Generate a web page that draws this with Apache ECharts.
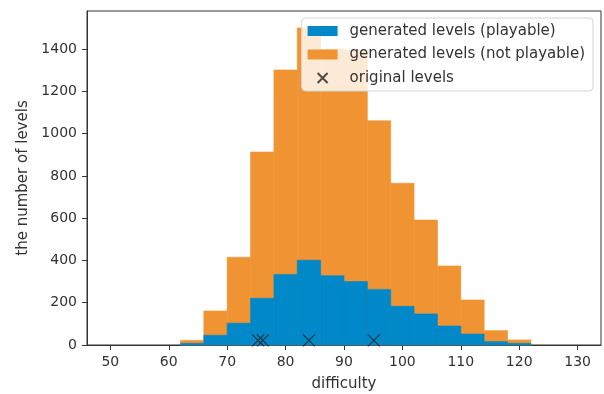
<!DOCTYPE html>
<html>
<head>
<meta charset="utf-8">
<script src="https://cdn.jsdelivr.net/npm/echarts@6/dist/echarts.min.js"></script>
<style>
  html, body { margin: 0; padding: 0; background: #fff; }
  #chart { width: 604px; height: 394px; }
</style>
</head>
<body>
<div id="chart"></div>
<script>
// histogram bins (left edges), each 4 wide
const binStart = [50, 54, 58, 62, 66, 70, 74, 78, 82, 86, 90, 94, 98, 102, 106, 110, 114, 118, 122, 126];
const binWidth = 4;
// total generated levels per bin (top of the orange bars)
const totalLevels = [0, 0, 0, 22, 161, 415, 913, 1301, 1500, 1400, 1395, 1061, 765, 591, 374, 213, 68, 24, 0, 0];
// playable levels per bin (blue bars)
const playableLevels = [0, 0, 0, 8, 46, 103, 221, 334, 401, 328, 300, 263, 183, 147, 90, 52, 16, 8, 0, 0];
// original levels difficulty (x markers)
const originalDifficulty = [75.3, 76.1, 84.0, 95.1];
const originalCount = [22, 22, 22, 22];

const xTicks = [50, 60, 70, 80, 90, 100, 110, 120, 130];
const yTicks = [0, 200, 400, 600, 800, 1000, 1200, 1400];

const BLUE = '#0088c9';
const ORANGE = '#f09433';
const FONT = 'DejaVu Sans';

function histRect(color) {
  return function (params, api) {
    if (!api.value(2)) return null; // empty bin
    const a = api.coord([api.value(0), 0]);
    const b = api.coord([api.value(1), api.value(2)]);
    return {
      type: 'rect',
      shape: { x: a[0], y: b[1], width: b[0] - a[0], height: a[1] - b[1] },
      style: { fill: color, stroke: color, lineWidth: 0.6 }
    };
  };
}

const totalData = binStart.map((x, i) => [x, x + binWidth, totalLevels[i]]);
const playData = binStart.map((x, i) => [x, x + binWidth, playableLevels[i]]);
const origData = originalDifficulty.map((x, i) => [x, originalCount[i]]);

const chart = echarts.init(document.getElementById('chart'));
chart.setOption({
  animation: false,
  textStyle: { fontFamily: FONT },
  grid: {
    left: 87, top: 11, right: 3, bottom: 49,
    outerBoundsMode: 'none',
    show: true, borderColor: '#333', borderWidth: 1, backgroundColor: 'transparent'
  },
  legend: {
    orient: 'vertical',
    right: 11,
    top: 18,
    padding: [4, 8, 4, 6],
    itemWidth: 30,
    itemHeight: 10,
    itemGap: 5.5,
    backgroundColor: 'rgba(255,255,255,0.8)',
    borderColor: '#d4d4d4',
    borderWidth: 1,
    borderRadius: 4,
    textStyle: { fontFamily: FONT, fontSize: 15, color: '#333', lineHeight: 18, padding: [0, 0, 0, 7] },
    data: [
      { name: 'generated levels (playable)', icon: 'rect' },
      { name: 'generated levels (not playable)', icon: 'rect' },
      { name: 'original levels', icon: 'path://M0,0L10,10M10,0L0,10' }
    ]
  },
  xAxis: {
    type: 'value',
    min: 46,
    max: 134,
    name: 'difficulty',
    nameLocation: 'middle',
    nameGap: 32,
    nameTextStyle: { fontFamily: FONT, fontSize: 15, color: '#333' },
    splitLine: { show: false },
    axisLine: { show: true, onZero: false, lineStyle: { color: '#333', width: 1 } },
    axisTick: { show: true, length: 5, lineStyle: { color: '#333' }, customValues: xTicks },
    axisLabel: { fontFamily: FONT, fontSize: 14, color: '#333', margin: 10, customValues: xTicks }
  },
  yAxis: {
    type: 'value',
    min: 0,
    max: 1580,
    name: 'the number of levels',
    nameLocation: 'middle',
    nameGap: 56,
    nameTextStyle: { fontFamily: FONT, fontSize: 15, color: '#333' },
    splitLine: { show: false },
    axisLine: { show: true, lineStyle: { color: '#333', width: 1 } },
    axisTick: { show: true, length: 5, lineStyle: { color: '#333' }, customValues: yTicks },
    axisLabel: {
      fontFamily: FONT, fontSize: 14, color: '#333', margin: 10, customValues: yTicks,
      formatter: (v) => String(v)
    }
  },
  series: [
    {
      name: 'generated levels (not playable)',
      type: 'custom',
      renderItem: histRect(ORANGE),
      itemStyle: { color: ORANGE },
      encode: { x: [0, 1], y: 2 },
      data: totalData,
      z: 1
    },
    {
      name: 'generated levels (playable)',
      type: 'custom',
      renderItem: histRect(BLUE),
      itemStyle: { color: BLUE },
      encode: { x: [0, 1], y: 2 },
      data: playData,
      z: 2
    },
    {
      name: 'original levels',
      type: 'scatter',
      symbol: 'path://M0,0L10,10M10,0L0,10',
      symbolSize: 12,
      itemStyle: { color: 'none', borderColor: '#222', borderWidth: 1.2 },
      data: origData,
      z: 3
    }
  ]
});
</script>
</body>
</html>
